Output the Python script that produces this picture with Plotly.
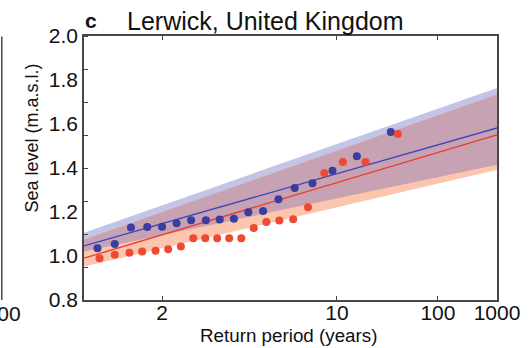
import numpy as np
import plotly.graph_objects as go

# Annual-maximum sea levels at Lerwick, plotted against their empirical return periods
blue_return_period = [1.56, 1.65, 1.75, 1.87, 2.0, 2.15, 2.33, 2.55, 2.8, 3.11,
                      3.5, 4.0, 4.67, 5.6, 7.0, 9.33, 14.0, 28.0]
blue_sea_level = [1.035, 1.054, 1.129, 1.132, 1.133, 1.149, 1.163, 1.163, 1.166, 1.169,
                  1.199, 1.205, 1.258, 1.309, 1.331, 1.387, 1.453, 1.564]

red_return_period = [1.57, 1.65, 1.74, 1.83, 1.94, 2.06, 2.2, 2.36, 2.54, 2.75, 3.0,
                     3.3, 3.67, 4.13, 4.71, 5.5, 6.6, 8.25, 11.0, 16.5, 33.0]
red_sea_level = [0.990, 1.006, 1.015, 1.020, 1.024, 1.031, 1.043, 1.081, 1.081, 1.081, 1.081,
                 1.081, 1.127, 1.155, 1.161, 1.167, 1.222, 1.377, 1.427, 1.427, 1.555]

# Fitted return-level curves and their confidence bands
fit_return_period = [1.5, 1000.0]
blue_fit = [1.046, 1.582]
blue_lower = [1.020, 1.415]
blue_upper = [1.106, 1.764]
red_fit = [0.990, 1.551]
red_lower = [0.952, 1.392]
red_upper = [1.075, 1.734]

x_tick_periods = [2, 10, 100, 1000]
x_tick_labels = ["2", "10", "100", "1000"]
y_tick_values = [0.8, 1.0, 1.2, 1.4, 1.6, 1.8, 2.0]
y_tick_labels = ["0.8", "1.0", "1.2", "1.4", "1.6", "1.8", "2.0"]

BLUE_PT = "#3a3c9e"
RED_PT = "#ee4933"
BLUE_LINE = "#3b46c0"
RED_LINE = "#ec3a28"
BLUE_BAND = "#c3c5e6"
RED_BAND = "#fbc5ae"
BOTH_BAND = "#c6a2b2"
FRAME = "#474747"
INK = "#111111"
FONT = "Liberation Sans, Arial, sans-serif"

W, H = 532, 348
ML, MR, MT, MB = 84, 31, 36, 48
PW, PH = W - ML - MR, H - MT - MB


def xv(periods):
    # horizontal scale is logarithmic in log10(return period)
    return np.log10(np.asarray(periods, dtype=float))


def paper(xpix, ypix):
    # pixel position on the page -> paper coordinates of the plot area
    return (xpix - ML) / PW, 1 - (ypix - MT) / PH


fx = xv(fit_return_period)
fig = go.Figure()

# confidence bands: blue, red, then their overlap
fig.add_trace(go.Scatter(x=np.r_[fx, fx[::-1]], y=np.r_[blue_upper, blue_lower[::-1]],
                         fill="toself", fillcolor=BLUE_BAND, line=dict(width=0),
                         mode="lines", hoverinfo="skip", showlegend=False))
fig.add_trace(go.Scatter(x=np.r_[fx, fx[::-1]], y=np.r_[red_upper, red_lower[::-1]],
                         fill="toself", fillcolor=RED_BAND, line=dict(width=0),
                         mode="lines", hoverinfo="skip", showlegend=False))
fig.add_trace(go.Scatter(x=np.r_[fx, fx[::-1]], y=np.r_[red_upper, blue_lower[::-1]],
                         fill="toself", fillcolor=BOTH_BAND, line=dict(width=0),
                         mode="lines", hoverinfo="skip", showlegend=False))

# fitted lines
fig.add_trace(go.Scatter(x=fx, y=blue_fit, mode="lines",
                         line=dict(color=BLUE_LINE, width=1.3), showlegend=False))
fig.add_trace(go.Scatter(x=fx, y=red_fit, mode="lines",
                         line=dict(color=RED_LINE, width=1.3), showlegend=False))

# observed annual maxima
fig.add_trace(go.Scatter(x=xv(blue_return_period), y=blue_sea_level, mode="markers",
                         marker=dict(color=BLUE_PT, size=8, line=dict(width=0)),
                         showlegend=False))
fig.add_trace(go.Scatter(x=xv(red_return_period), y=red_sea_level, mode="markers",
                         marker=dict(color=RED_PT, size=8, line=dict(width=0)),
                         showlegend=False))

x_lo = np.log10(np.log10(1.5))
x_hi = np.log10(np.log10(1000.0))

fig.update_xaxes(
    type="log", range=[x_lo, x_hi],
    tickmode="array", tickvals=xv(x_tick_periods), ticktext=x_tick_labels,
    ticks="inside", ticklen=4, tickcolor=FRAME, tickwidth=1,
    showline=True, linecolor=FRAME, linewidth=1.5, mirror="ticks",
    showgrid=False, zeroline=False, ticklabelstandoff=-7,
    tickfont=dict(family=FONT, size=21, color=INK),
)
fig.update_yaxes(
    range=[0.8, 2.0],
    tickmode="array", tickvals=y_tick_values, ticktext=y_tick_labels,
    ticks="", showline=True, linecolor=FRAME, linewidth=1.5, mirror=True,
    minor=dict(tickmode="linear", tick0=0.8, dtick=0.15, ticks="inside",
               ticklen=4, tickcolor=FRAME, tickwidth=1, showgrid=False),
    showgrid=False, zeroline=False,
    tickfont=dict(family=FONT, size=21, color=INK),
)

fig.update_layout(
    width=W, height=H,
    margin=dict(l=ML, r=MR, t=MT, b=MB),
    paper_bgcolor="white", plot_bgcolor="white",
    font=dict(family=FONT, color=INK),
)

for text, (x0, y0), size, extra in [
    ("<b>c</b>", (91, 21), 21, {}),
    ("Lerwick, United Kingdom", (267, 21), 25, {}),
    ("Return period (years)", (290, 335), 18.8, {}),
    ("Sea level (m.a.s.l.)", (32, 138), 18, {"textangle": -90}),
    ("1000", (22, 313), 21, {"xanchor": "right"}),
]:
    xp, yp = paper(x0, y0)
    a = dict(text=text, x=xp, y=yp, xref="paper", yref="paper", showarrow=False,
             xanchor="center", yanchor="middle",
             font=dict(family=FONT, size=size, color=INK))
    a.update(extra)
    fig.add_annotation(**a)

# right frame of the neighbouring panel
x0p, y0p = paper(1, 36.5)
_, y1p = paper(1, 300)
fig.add_shape(type="line", xref="paper", yref="paper",
              x0=x0p, x1=x0p, y0=y0p, y1=y1p,
              line=dict(color=FRAME, width=1.5))

fig.write_html("out.html")
